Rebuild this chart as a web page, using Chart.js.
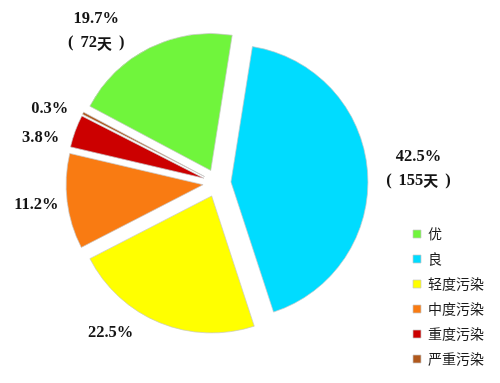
<!DOCTYPE html>
<html>
<head>
<meta charset="utf-8">
<script src="https://cdn.jsdelivr.net/npm/chart.js@4"></script>
<style>
  html, body { margin: 0; padding: 0; background: #fff; overflow: hidden; }
  #wrap { width: 500px; height: 383px; overflow: hidden; }
  /* Leinwand etwas höher, nach oben verschoben -> Tortenmitte liegt höher als die Legende es erlaubt */
  #pie { display: block; margin-top: -11px; }
</style>
</head>
<body>
<div id="wrap"><canvas id="pie" width="500" height="396"></canvas></div>
<script>
// Kategorien + Tage (Summe 365)
const CATEGORIES = ["优", "良", "轻度污染", "中度污染", "重度污染", "严重污染"];
const DAYS = [72, 155, 82, 41, 14, 1];
const SHOW_DAYS = [true, true, false, false, false, false];
const COLORS = ["#70f53c", "#00dcff", "#ffff00", "#f97b12", "#cc0000", "#b0581c"];

// Beschriftungs-Layout: Winkelverschiebung (Grad) + Abstand vom Mittelpunkt
const LABEL_SHIFT = [-12, 0.5, 13, 0, -5.8, -3.6];
const LABEL_DIST = [194, 202, 184, 182, 182, 183];

const EXPLODE = 14; // Abstand der Segmente vom Mittelpunkt (px)

const total = DAYS.reduce((a, b) => a + b, 0);

const SERIF = "bold 16.5px 'Liberation Serif', 'Times New Roman', serif";
const CJK = "bold 15px 'Noto Sans CJK SC', sans-serif";

function pieCenter(chart) {
  const a = chart.chartArea;
  return { x: (a.left + a.right) / 2, y: (a.top + a.bottom) / 2 };
}

// Zeile aus Teilstücken (Text + Schrift, oder Zahl = Lücke), zentriert um x
function drawMixed(ctx, parts, x, y) {
  let w = 0;
  parts.forEach((p) => {
    if (typeof p === "number") { w += p; return; }
    ctx.font = p[1]; w += ctx.measureText(p[0]).width;
  });
  let cx = x - w / 2;
  ctx.textAlign = "left";
  parts.forEach((p) => {
    if (typeof p === "number") { cx += p; return; }
    ctx.font = p[1];
    ctx.fillText(p[0], cx, y);
    cx += ctx.measureText(p[0]).width;
  });
}

// Gleichmässige Explosion: jedes Segment entlang seiner Mittelachse verschieben
// (das eingebaute `offset` vergrössert kleine Segmente zusätzlich)
const explode = {
  id: "explode",
  afterUpdate(chart) {
    const c = pieCenter(chart);
    chart.getDatasetMeta(0).data.forEach((arc) => {
      const mid = (arc.startAngle + arc.endAngle) / 2;
      arc.x = c.x + Math.cos(mid) * EXPLODE;
      arc.y = c.y + Math.sin(mid) * EXPLODE;
    });
  },
};

// Prozent-/Tage-Beschriftung ausserhalb der Segmente
const outsideLabels = {
  id: "outsideLabels",
  afterDatasetsDraw(chart) {
    const { ctx } = chart;
    const c = pieCenter(chart);
    const arcs = chart.getDatasetMeta(0).data;
    ctx.save();
    ctx.fillStyle = "#141414";
    ctx.textBaseline = "middle";
    arcs.forEach((arc, i) => {
      const mid = (arc.startAngle + arc.endAngle) / 2 + LABEL_SHIFT[i] * Math.PI / 180;
      const x = c.x + Math.cos(mid) * LABEL_DIST[i];
      const y = c.y + Math.sin(mid) * LABEL_DIST[i];
      const pct = (DAYS[i] / total * 100).toFixed(1) + "%";
      ctx.textAlign = "center";
      ctx.font = SERIF;
      if (SHOW_DAYS[i]) {
        ctx.fillText(pct, x, y - 12);
        drawMixed(ctx, [["(", SERIF], 7, [String(DAYS[i]), SERIF], ["天", CJK], 7, [")", SERIF]], x, y + 12);
      } else {
        ctx.fillText(pct, x, y);
      }
    });
    ctx.restore();
  },
};

new Chart(document.getElementById("pie"), {
  type: "pie",
  data: {
    labels: CATEGORIES,
    datasets: [{
      data: DAYS,
      backgroundColor: COLORS,
      borderColor: "rgba(200,200,200,0.7)",
      borderWidth: 1,
      offset: 0,
      hoverOffset: 0,
      clip: false,
    }],
  },
  options: {
    responsive: false,
    animation: false,
    events: [],
    rotation: -62,
    radius: 137,
    layout: { padding: { left: 32, right: 6, top: 0, bottom: 8 } },
    plugins: {
      tooltip: { enabled: false },
      legend: {
        position: "right",
        align: "end",
        labels: {
          boxWidth: 8,
          boxHeight: 8,
          padding: 11,
          color: "#1a1a1a",
          font: { size: 14, family: "'Noto Sans CJK SC', sans-serif" },
        },
      },
    },
  },
  plugins: [explode, outsideLabels],
});
</script>
</body>
</html>
